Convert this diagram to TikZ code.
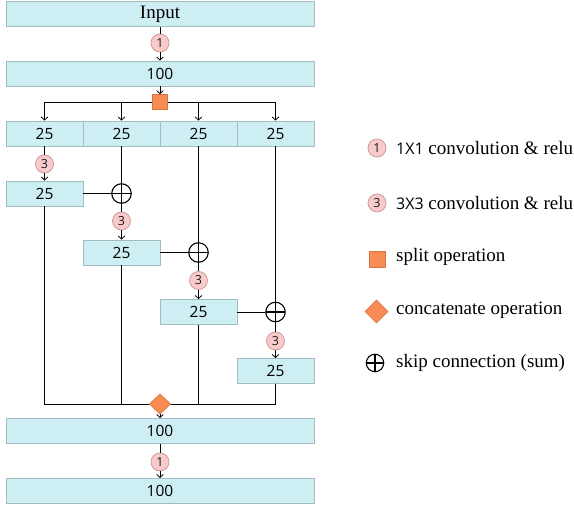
\documentclass[tikz,border=0pt]{standalone}
\usepackage{fontspec}
\setmainfont{Liberation Serif}
\newfontfamily\numfont{Open Sans}
\usetikzlibrary{arrows.meta,shapes.geometric}

\definecolor{boxfill}{HTML}{CDEEF3}
\definecolor{boxline}{HTML}{A3BCC0}
\definecolor{opfill}{HTML}{F98B55}
\definecolor{opline}{HTML}{D8743F}
\definecolor{convfill}{HTML}{F9CACA}
\definecolor{convline}{HTML}{CF9C9C}

\tikzset{
  blk/.style={draw=boxline, fill=boxfill, line width=0.9pt, inner sep=0pt,
    minimum height=25pt, text=black, font=\numfont\fontsize{15.5}{17}\selectfont},
  wide/.style={blk, minimum width=308pt},
  narrow/.style={blk, minimum width=77pt},
  conv/.style={circle, draw=convline, fill=convfill, line width=0.8pt, inner sep=0pt,
    minimum size=18pt, text=black!90, font=\numfont\fontsize{12.5}{13}\selectfont},
  splitop/.style={rectangle, draw=opline, fill=opfill, line width=0.6pt,
    minimum size=15pt, inner sep=0pt},
  catop/.style={diamond, draw=opline, fill=opfill, line width=0.6pt,
    minimum width=21pt, minimum height=20pt, inner sep=0pt, aspect=1},
  sumop/.style={circle, draw=black, fill=white, line width=1.1pt, minimum size=19.5pt,
    inner sep=0pt, path picture={
      \draw[line width=1.7pt] (path picture bounding box.north) -- (path picture bounding box.south)
        (path picture bounding box.west) -- (path picture bounding box.east);}},
  wire/.style={draw=black, line width=0.8pt},
  arr/.style={wire, -{Straight Barb[length=3pt,width=6.5pt]}},
  legtext/.style={anchor=west, inner sep=0pt, font=\fontsize{19}{21}\selectfont},
}

\begin{document}
\begin{tikzpicture}[x=1pt,y=-1pt]
\useasboundingbox (0,0) rectangle (574,508);

% main column
\node[wide, font=\fontsize{19}{21}\selectfont] (inp) at (160,14) {Input};
\node[conv] (o1) at (160,43) {1};
\node[wide] (b1) at (160,73.5) {100};

% four-way split
\node[narrow] (r1a) at (44.5,133.5) {25};
\node[narrow] (r1b) at (121.5,133.5) {25};
\node[narrow] (r1c) at (198.5,133.5) {25};
\node[narrow] (r1d) at (275.5,133.5) {25};

% hierarchical 3x3 branches
\node[conv] (t1) at (44.5,164) {3};
\node[narrow] (c1) at (44.5,193.5) {25};
\node[sumop] (p1) at (121.5,193.5) {};
\node[conv] (t2) at (121.5,221) {3};
\node[narrow] (c2) at (121.5,252.5) {25};
\node[sumop] (p2) at (198.5,252.5) {};
\node[conv] (t3) at (198.5,280.5) {3};
\node[narrow] (c3) at (198.5,312) {25};
\node[sumop] (p3) at (275.5,312) {};
\node[conv] (t4) at (275.5,341) {3};
\node[narrow] (c4) at (275.5,371) {25};

% merge and output
\node[wide] (b2) at (160,431) {100};
\node[conv] (o2) at (160,462) {1};
\node[wide] (b3) at (160,491) {100};

% connectors
\draw[wire] (inp.south) -- (o1.north);
\draw[arr] (o1.south) -- (b1.north);
\node[splitop] (sq) at (160,102) {};
\draw[arr] (b1.south) -- (sq.north);
\draw[arr] (sq.west) -| (r1a.north);
\draw[arr] (sq.west) -| (r1b.north);
\draw[arr] (sq.east) -| (r1c.north);
\draw[arr] (sq.east) -| (r1d.north);

\draw[wire] (r1a.south) -- (t1.north);
\draw[arr] (t1.south) -- (c1.north);

\draw[wire] (r1b.south) -- (p1.north);
\draw[wire] (c1.east) -- (p1.west);
\draw[wire] (p1.south) -- (t2.north);
\draw[arr] (t2.south) -- (c2.north);

\draw[wire] (r1c.south) -- (p2.north);
\draw[wire] (c2.east) -- (p2.west);
\draw[wire] (p2.south) -- (t3.north);
\draw[arr] (t3.south) -- (c3.north);

\draw[wire] (r1d.south) -- (p3.north);
\draw[wire] (c3.east) -- (p3.west);
\draw[wire] (p3.south) -- (t4.north);
\draw[arr] (t4.south) -- (c4.north);

\node[catop] (dm) at (160,404) {};
\draw[wire] (c1.south) |- (dm.west);
\draw[wire] (c4.south) |- (dm.east);
\draw[wire] (c2.south) -- (c2.south |- dm.center);
\draw[wire] (c3.south) -- (c3.south |- dm.center);
\node[catop] at (dm) {};

\draw[arr] (dm.south) -- (b2.north);
\draw[wire] (b2.south) -- (o2.north);
\draw[arr] (o2.south) -- (b3.north);

% legend
\node[conv] (l1) at (377,148) {1};
\node[legtext] (l1t) at (396,148) {{\numfont\fontsize{16}{17}\selectfont 1X1} convolution \& relu};
\node[conv] (l2) at (377,203) {3};
\node[legtext] (l2t) at (396,203) {{\numfont\fontsize{16}{17}\selectfont 3X3} convolution \& relu};
\node[splitop, minimum size=16pt] (l3) at (377,259) {};
\node[legtext] (l3t) at (396,257) {split operation};
\node[catop, minimum width=23pt, minimum height=23pt] (l4) at (376.5,311.5) {};
\node[legtext] (l4t) at (396,310) {concatenate operation};
\node[sumop, minimum size=17.5pt] (l5) at (375,363) {};
\node[legtext] (l5t) at (396,363) {skip connection (sum)};
\end{tikzpicture}
\end{document}
